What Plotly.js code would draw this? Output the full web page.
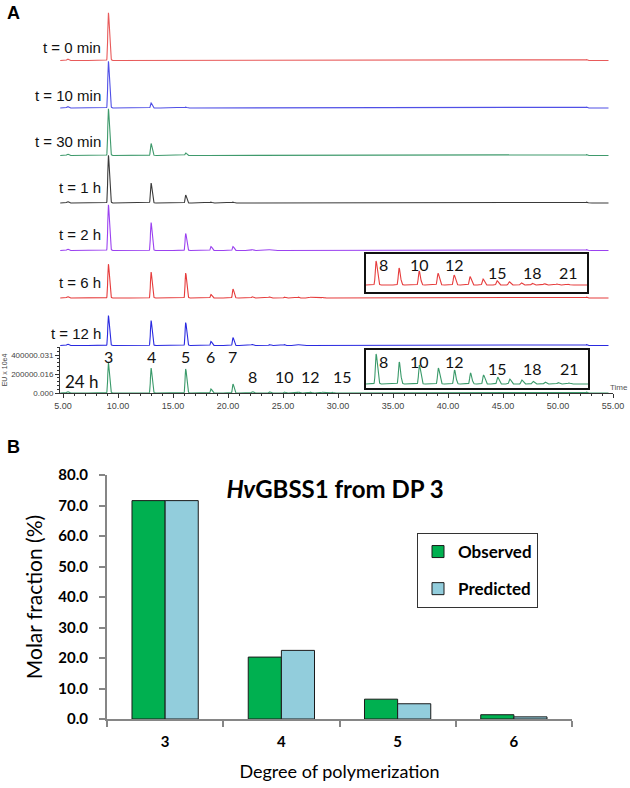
<!DOCTYPE html>
<html><head><meta charset="utf-8">
<script src="https://cdn.plot.ly/plotly-3.0.1.min.js"></script>
<style>html,body{margin:0;padding:0;background:#fff}#chart{width:630px;height:788px}</style>
</head><body><div id="chart"></div>
<script>
// ---------------- Panel A data ----------------
const sampleLabels = ['t = 0 min', 't = 10 min', 't = 30 min', 't = 1 h', 't = 2 h', 't = 6 h', 't = 12 h', '24 h'];
const sampleColors = ['#e85a5a', '#5050e6', '#3f9a6c', '#3a3a3a', '#9b42f0', '#e63c3c', '#2a2ae0', '#3a9a6a'];
const peakDP = [3, 4, 5, 6, 7, 8, 9, 10, 11, 12, 13, 14, 15, 16, 17, 18, 19, 20, 21, 22];
const peakRT = [9.12, 13.0, 16.15, 18.45, 20.45, 22.2, 23.76, 25.12, 26.4, 27.49, 28.57, 29.45, 30.4, 31.22, 32.03, 32.78, 33.59, 34.47, 35.22, 36.23];
// peak heights (EU) for DP3..DP22
const h_t0   = [505000, 2000, 0, 0, 0, 0, 0, 0, 0, 0, 0, 0, 0, 0, 0, 0, 0, 0, 0, 0];
const h_t10  = [495000, 53000, 10000, 0, 0, 0, 0, 0, 0, 0, 0, 0, 0, 0, 0, 0, 0, 0, 0, 0];
const h_t30  = [495000, 126000, 26000, 4000, 2000, 0, 0, 0, 0, 0, 0, 0, 0, 0, 0, 0, 0, 0, 0, 0];
const h_t1h  = [505000, 210000, 84000, 10000, 10000, 3000, 2000, 1500, 1000, 0, 0, 0, 0, 0, 0, 0, 0, 0, 0, 0];
const h_t2h  = [484000, 295000, 179000, 42000, 42000, 10000, 8000, 6000, 5000, 4000, 3000, 2000, 1500, 1000, 0, 0, 0, 0, 0, 0];
const h_t6h  = [358000, 274000, 263000, 37000, 95000, 14000, 12000, 10000, 9000, 8000, 7000, 6000, 5000, 4000, 3000, 2500, 2000, 1500, 1000, 800];
const h_t12h = [316000, 263000, 242000, 42000, 84000, 12000, 10000, 9000, 8000, 7000, 6000, 5000, 4000, 3000, 2500, 2000, 1500, 1000, 800, 500];
const h_t24h = [316000, 263000, 253000, 42000, 95000, 15000, 13000, 11000, 10000, 9000, 8000, 7000, 6000, 5000, 4000, 3000, 2500, 2000, 1500, 1000];
const sampleHeights = [h_t0, h_t10, h_t30, h_t1h, h_t2h, h_t6h, h_t12h, h_t24h];
// small non-glucan signals (solvent front, wash)
const artifactRT = [5.4, 52.6];
const artifactH = [15000, 9000];
// y-axis ticks of the 24 h chromatogram
const euTickVals = [0, 200000, 400000];
const euTickText = ['0.000', '200000.016', '400000.031'];
// labelled DP peaks on the 24 h trace
const mainLabelDP = [3, 4, 5, 6, 7, 8, 10, 12, 15];
// inset (DP8-DP22 enlarged) relative intensities
const inset6h  = [24, 17, 14, 11.7, 10, 8.3, 6, 4.3, 3.3, 2.3, 1.7, 1.3, 1.0, 0.8, 0.5];
const inset24h = [30, 22, 19, 16, 14, 11, 9, 7, 5, 4, 2.7, 2, 1.5, 1, 0.7];
const insetLabelDP = [8, 10, 12, 15, 18, 21];

// ---------------- Panel B data ----------------
const dpCategories = ['3', '4', '5', '6'];
const observed  = [71.6, 20.3, 6.5, 1.4];
const predicted = [71.6, 22.5, 5.0, 0.7];

// ---------------- helpers ----------------
const W = 630, H = 788;
const px = v => v / W;
const py = v => 1 - v / H;
const SCALE = 10526;          // EU per pixel on the chromatogram stack
const STEP = 500000;          // vertical offset between stacked chromatograms (EU)

function chrom(rts, hs, x0, x1, dx, sl, sr) {
  const xs = [], ys = [];
  for (let x = x0; x <= x1 + 1e-9; x += dx) {
    let y = 0;
    for (let i = 0; i < rts.length; i++) {
      if (!hs[i]) continue;
      const d = x - rts[i];
      const s = d < 0 ? sl : sr;
      if (Math.abs(d) < 8 * s) y += hs[i] * Math.exp(-0.5 * (d / s) * (d / s));
    }
    xs.push(+x.toFixed(3)); ys.push(y);
  }
  return {xs, ys};
}

const traces = [];
const nS = sampleLabels.length;
sampleHeights.forEach((hs, i) => {
  const rts = peakRT.concat(artifactRT);
  const hh = hs.concat(artifactH);
  const c = chrom(rts, hh, 4.75, 54.6, 0.02, 0.05, 0.1);
  const last = i === nS - 1;
  const off = last ? 0 : STEP * (nS - 1 - i);
  traces.push({
    type: 'scatter', mode: 'lines', x: c.xs, y: c.ys.map(v => v + off),
    xaxis: 'x', yaxis: last ? 'y2' : 'y3',
    line: {color: sampleColors[i], width: 1.1}, showlegend: false, hoverinfo: 'skip'
  });
});

// insets
const insetRT = peakRT.slice(5);
const ci6 = chrom(insetRT, inset6h, 21.52, 36.5, 0.01, 0.05, 0.09);
const ci24 = chrom(insetRT, inset24h, 21.52, 36.5, 0.01, 0.05, 0.09);
traces.push({type: 'scatter', mode: 'lines', x: ci6.xs, y: ci6.ys, xaxis: 'x5', yaxis: 'y5',
  line: {color: sampleColors[5], width: 1.1}, showlegend: false, hoverinfo: 'skip'});
traces.push({type: 'scatter', mode: 'lines', x: ci24.xs, y: ci24.ys, xaxis: 'x6', yaxis: 'y6',
  line: {color: sampleColors[7], width: 1.1}, showlegend: false, hoverinfo: 'skip'});

// Panel B bars
traces.push({type: 'bar', name: 'Observed', x: dpCategories, y: observed, xaxis: 'x4', yaxis: 'y4',
  marker: {color: '#00b050', line: {color: '#1a1a1a', width: 1}}, legendgroup: 'a'});
traces.push({type: 'bar', name: 'Predicted', x: dpCategories, y: predicted, xaxis: 'x4', yaxis: 'y4',
  marker: {color: '#92cddc', line: {color: '#1a1a1a', width: 1}}, legendgroup: 'b'});

// ---------------- annotations ----------------
const ann = [];
ann.push({text: '<b>A</b>', xref: 'paper', yref: 'paper', x: px(5), y: py(13), xanchor: 'left', yanchor: 'middle',
  showarrow: false, font: {family: 'Liberation Sans, Arial', size: 18, color: '#000'}});
ann.push({text: '<b>B</b>', xref: 'paper', yref: 'paper', x: px(5), y: py(447), xanchor: 'left', yanchor: 'middle',
  showarrow: false, font: {family: 'Liberation Sans, Arial', size: 18, color: '#000'}});
// sample labels
const labelY = [48, 95, 141, 188, 235, 282, 333];
for (let i = 0; i < nS - 1; i++) {
  ann.push({text: sampleLabels[i], xref: 'paper', yref: 'paper', x: px(103), y: py(labelY[i]), xanchor: 'right', yanchor: 'middle',
    showarrow: false, font: {family: 'Liberation Sans, Arial', size: 15, color: '#111'}});
}
ann.push({text: sampleLabels[nS - 1], xref: 'paper', yref: 'paper', x: px(63), y: py(381), xanchor: 'left', yanchor: 'middle',
  showarrow: false, font: {family: 'Lato', size: 17, color: '#111'}});
mainLabelDP.forEach(dp => {
  const k = peakDP.indexOf(dp);
  ann.push({text: String(dp), xref: 'x', yref: 'paper', x: peakRT[k], y: py(dp <= 7 ? 356 : 376), xanchor: 'center', yanchor: 'middle',
    showarrow: false, font: {family: 'Lato', size: 16, color: '#111'}});
});
insetLabelDP.forEach(dp => {
  const k = peakDP.indexOf(dp);
  const hi = dp <= 12;
  ann.push({text: String(dp), xref: 'x5', yref: 'paper', x: peakRT[k], xshift: dp === 8 ? 7 : 0, y: py(hi ? 265 : 273),
    xanchor: 'center', yanchor: 'middle', showarrow: false, font: {family: 'Lato', size: 16, color: '#111'}});
  ann.push({text: String(dp), xref: 'x6', yref: 'paper', x: peakRT[k], xshift: dp === 8 ? 7 : 0, y: py(hi ? 361 : 368),
    xanchor: 'center', yanchor: 'middle', showarrow: false, font: {family: 'Lato', size: 16, color: '#111'}});
});
ann.push({text: 'Time', xref: 'paper', yref: 'paper', x: px(630), y: py(387), xanchor: 'right', yanchor: 'middle',
  showarrow: false, font: {family: 'Liberation Sans, Arial', size: 8, color: '#555'}});

const insetAxis = {showline: true, mirror: true, linewidth: 2, linecolor: '#111', ticks: '', showticklabels: false,
  showgrid: false, zeroline: false};

const layout = {
  width: W, height: H, margin: {l: 0, r: 0, t: 0, b: 0},
  paper_bgcolor: '#fff', plot_bgcolor: 'rgba(0,0,0,0)',
  showlegend: true,
  bargap: 0.43, bargroupgap: 0, barmode: 'group',
  title: {text: '<i>Hv</i>GBSS1 from DP 3', xref: 'paper', yref: 'paper', x: px(335), y: py(490),
    xanchor: 'center', yanchor: 'middle', font: {family: 'Lato', size: 24, weight: 'bold', color: '#000'}},
  legend: {x: px(417), y: py(533), xanchor: 'left', yanchor: 'top', bgcolor: '#fff', bordercolor: '#333', borderwidth: 1,
    font: {family: 'Lato', size: 17, weight: 'bold', color: '#000'}, tracegroupgap: 12, itemwidth: 30},
  xaxis: {domain: [px(60), px(613)], range: [4.727, 55.0], anchor: 'y2', showline: true, linecolor: '#333', linewidth: 1,
    ticks: 'outside', ticklen: 4, tickcolor: '#333', tick0: 5, dtick: 5, tickformat: '.2f',
    tickfont: {family: 'Liberation Sans, Arial', size: 9, color: '#444'},
    minor: {dtick: 1, ticks: 'outside', ticklen: 2, tickcolor: '#333'}, showgrid: false, zeroline: false},
  yaxis2: {domain: [py(393), py(347)], range: [0, 46 * SCALE], anchor: 'x', showline: true, linecolor: '#333', linewidth: 1,
    ticks: 'outside', ticklen: 4, tickcolor: '#333', tickvals: euTickVals, ticktext: euTickText,
    tickfont: {family: 'Liberation Sans, Arial', size: 8, color: '#444'},
    minor: {dtick: 40000, ticks: 'outside', ticklen: 2, tickcolor: '#333'}, showgrid: false, zeroline: false,
    title: {text: 'EU x 10e4', font: {family: 'Liberation Sans, Arial', size: 7, color: '#444'}, standoff: 2}},
  yaxis3: {domain: [py(393), 1], range: [0, 393 * SCALE], anchor: 'x', visible: false, showgrid: false, zeroline: false},
  xaxis5: Object.assign({domain: [px(366), px(587)], range: [21.52, 36.5], anchor: 'y5'}, insetAxis),
  yaxis5: Object.assign({domain: [py(292), py(254)], range: [-7, 31], anchor: 'x5'}, insetAxis),
  xaxis6: Object.assign({domain: [px(366), px(588)], range: [21.52, 36.5], anchor: 'y6'}, insetAxis),
  yaxis6: Object.assign({domain: [py(388), py(350)], range: [-4, 34], anchor: 'x6'}, insetAxis),
  xaxis4: {domain: [px(107), px(572)], anchor: 'y4', type: 'category', tickson: 'boundaries', ticks: 'outside', ticklen: 6,
    tickcolor: '#868686', tickwidth: 2, showline: true, linecolor: '#868686', linewidth: 2, ticklabelstandoff: 8,
    tickfont: {family: 'Lato', size: 15, weight: 'bold', color: '#000'}, showgrid: false, zeroline: false,
    title: {text: 'Degree of polymerization', font: {family: 'Lato', size: 18, color: '#000'}, standoff: 16}},
  yaxis4: {domain: [py(719), py(475)], range: [0, 80], dtick: 10, tickformat: '.1f', anchor: 'x4', ticks: 'outside', ticklen: 6,
    tickcolor: '#868686', tickwidth: 2, showline: true, linecolor: '#868686', linewidth: 2, ticklabelstandoff: 8,
    tickfont: {family: 'Lato', size: 15, weight: 'bold', color: '#000'}, showgrid: false, zeroline: false,
    title: {text: 'Molar fraction (%)', font: {family: 'Lato', size: 21, color: '#000'}, standoff: 10}},
  annotations: ann
};

Plotly.newPlot('chart', traces, layout, {staticPlot: true, displayModeBar: false});
</script>
</body></html>
